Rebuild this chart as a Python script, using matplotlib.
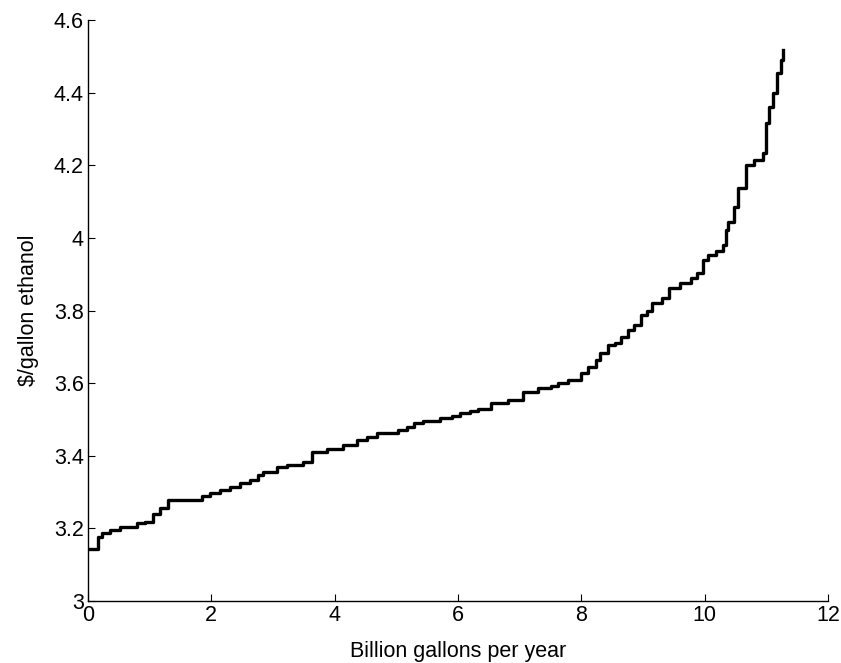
import numpy as np
import matplotlib.pyplot as plt

plt.rcParams['font.family'] = ['Liberation Sans', 'DejaVu Sans']

# supply curve: cumulative capacity (billion gal/yr) and price ($/gal) at each step
capacity = [0.00, 0.16, 0.23, 0.36, 0.52, 0.80, 0.93, 1.05, 1.17, 1.29,
            1.85, 1.98, 2.14, 2.30, 2.47, 2.63, 2.76, 2.84, 3.07, 3.23,
            3.48, 3.64, 3.88, 4.14, 4.37, 4.53, 4.69, 5.02, 5.18, 5.28,
            5.44, 5.71, 5.90, 6.04, 6.20, 6.32, 6.53, 6.81, 7.05, 7.30,
            7.50, 7.62, 7.78, 8.00, 8.10, 8.23, 8.31, 8.43, 8.55, 8.65,
            8.75, 8.85, 8.96, 9.06, 9.15, 9.30, 9.42, 9.60, 9.77, 9.88,
            9.97, 10.06, 10.18, 10.29, 10.34, 10.38, 10.48, 10.54, 10.67, 10.80,
            10.94, 10.99, 11.04, 11.10, 11.18, 11.23, 11.27]
price = [3.143, 3.176, 3.187, 3.196, 3.204, 3.215, 3.218, 3.240, 3.255, 3.278,
         3.289, 3.297, 3.306, 3.314, 3.325, 3.333, 3.347, 3.355, 3.369, 3.375,
         3.383, 3.410, 3.420, 3.430, 3.443, 3.452, 3.463, 3.470, 3.480, 3.490,
         3.496, 3.504, 3.510, 3.518, 3.524, 3.530, 3.545, 3.553, 3.576, 3.586,
         3.592, 3.600, 3.609, 3.628, 3.645, 3.664, 3.683, 3.705, 3.712, 3.726,
         3.747, 3.760, 3.788, 3.800, 3.821, 3.835, 3.862, 3.875, 3.890, 3.905,
         3.939, 3.953, 3.965, 3.980, 4.022, 4.044, 4.085, 4.137, 4.200, 4.215,
         4.234, 4.317, 4.360, 4.400, 4.455, 4.490, 4.518]

xticks = [0, 2, 4, 6, 8, 10, 12]
yticks = [3, 3.2, 3.4, 3.6, 3.8, 4, 4.2, 4.4, 4.6]
yticklabels = ['3', '3.2', '3.4', '3.6', '3.8', '4', '4.2', '4.4', '4.6']

fig = plt.figure(figsize=(8.41, 6.63), dpi=100)
ax = fig.add_axes([0.1046, 0.0935, 0.880, 0.876])

ax.plot(capacity, price, drawstyle='steps-post', color='black', linewidth=2.4)

ax.set_xlim(0, 12)
ax.set_ylim(3, 4.6)
ax.set_xticks(xticks)
ax.set_xticklabels([str(t) for t in xticks])
ax.set_yticks(yticks)
ax.set_yticklabels(yticklabels)

for side in ['top', 'right']:
    ax.spines[side].set_visible(False)
for side in ['left', 'bottom']:
    ax.spines[side].set_linewidth(1.0)

ax.tick_params(direction='in', length=5, width=0.8, labelsize=15.5, pad=3)
ax.set_xlabel('Billion gallons per year', fontsize=15.5, labelpad=11)
ax.set_ylabel('$/gallon ethanol', fontsize=15.5, labelpad=11)

fig.savefig('out.png', dpi=100)
